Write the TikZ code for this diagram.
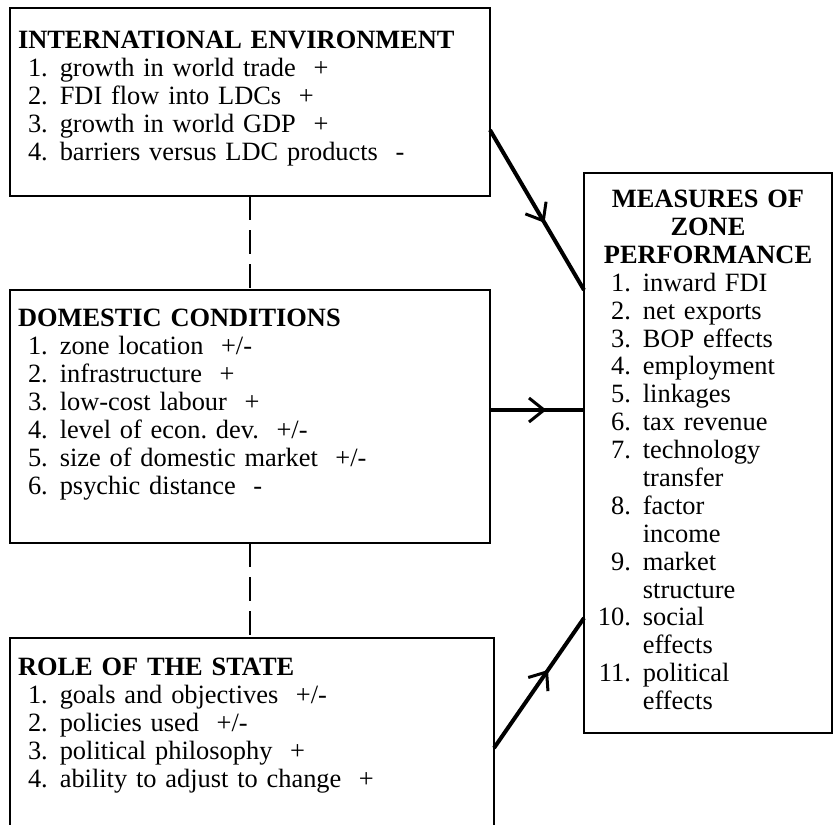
\documentclass[tikz,border=0pt]{standalone}
\usepackage{fontspec}
\setmainfont{Liberation Serif}
\frenchspacing
\usetikzlibrary{arrows.meta,decorations.markings}
\tikzset{
  panel/.style={
    draw=black, line width=2.5bp, outer sep=0pt, inner xsep=8bp, inner ysep=0pt,
    anchor=north west, align=left, font=\fontsize{26.5}{28}\selectfont
  },
  link/.style={line width=2.5bp, dash pattern=on 24bp off 10bp},
  flow/.style={
    line width=4bp, postaction={decorate},
    decoration={markings, mark=at position #1 with
      {\arrow{Straight Barb[length=15bp,width=24bp,line width=3bp]}}}
  },
  flow/.default=0.6
}
\newcommand{\heading}[1]{\multicolumn{2}{@{}l}{\textbf{#1}}}
\newcommand{\midheading}[1]{\multicolumn{2}{c}{\textbf{#1}}}

\begin{document}
\begin{tikzpicture}[x=1bp,y=-1bp]
    \useasboundingbox (0,0) rectangle (836,825);
    \node[panel,text width=464bp,minimum height=188bp] (intl) at (10,8) {%
      \begin{tabular}{@{\hspace{10bp}}r@{\hspace{12bp}}l@{}}
        \heading{INTERNATIONAL ENVIRONMENT}\\
        1. & growth in world trade\ \ +\\
        2. & FDI flow into LDCs\ \ +\\
        3. & growth in world GDP\ \ +\\
        4. & barriers versus LDC products\ \ -\\[6bp]
      \end{tabular}};
    \node[panel,text width=464bp,minimum height=253bp] (dom) at (10,290) {%
      \begin{tabular}{@{\hspace{10bp}}r@{\hspace{12bp}}l@{}}
        \heading{DOMESTIC CONDITIONS}\\
        1. & zone location\ \ +/-\\
        2. & infrastructure\ \ +\\
        3. & low-cost labour\ \ +\\
        4. & level of econ. dev.\ \ +/-\\
        5. & size of domestic market\ \ +/-\\
        6. & psychic distance\ \ -\\[23bp]
      \end{tabular}};
    \node[panel,text width=468bp,minimum height=188bp] (role) at (10,638) {%
      \begin{tabular}{@{\hspace{10bp}}r@{\hspace{12bp}}l@{}}
        \heading{ROLE OF THE STATE}\\
        1. & goals and objectives\ \ +/-\\
        2. & policies used\ \ +/-\\
        3. & political philosophy\ \ +\\
        4. & ability to adjust to change\ \ +\\[12bp]
      \end{tabular}};
    \node[panel,text width=232bp,minimum height=560bp,align=center] (meas) at (584,173) {%
      \begin{tabular}{@{}r@{\hspace{12bp}}l@{}}
        \midheading{MEASURES OF}\\
        \midheading{ZONE}\\
        \midheading{PERFORMANCE}\\
        1. & inward FDI\\
        2. & net exports\\
        3. & BOP effects\\
        4. & employment\\
        5. & linkages\\
        6. & tax revenue\\
        7. & technology\\
           & transfer\\
        8. & factor\\
           & income\\
        9. & market\\
           & structure\\
        10. & social\\
            & effects\\
        11. & political\\
            & effects
      \end{tabular}};
    \draw[link] (intl.south) -- (dom.north);
    \draw[link] (dom.south) -- (dom.south |- role.north);
    \draw[flow=0.58] ([yshift=-28bp]intl.east) -- ([yshift=163bp]meas.west);
    \draw[flow=0.6] ([yshift=6.5bp]dom.east) -- ([yshift=6.5bp]dom.east -| meas.west);
    \draw[flow=0.6] ([yshift=-16bp]role.east) -- ([yshift=-165bp]meas.west);
\end{tikzpicture}
\end{document}
